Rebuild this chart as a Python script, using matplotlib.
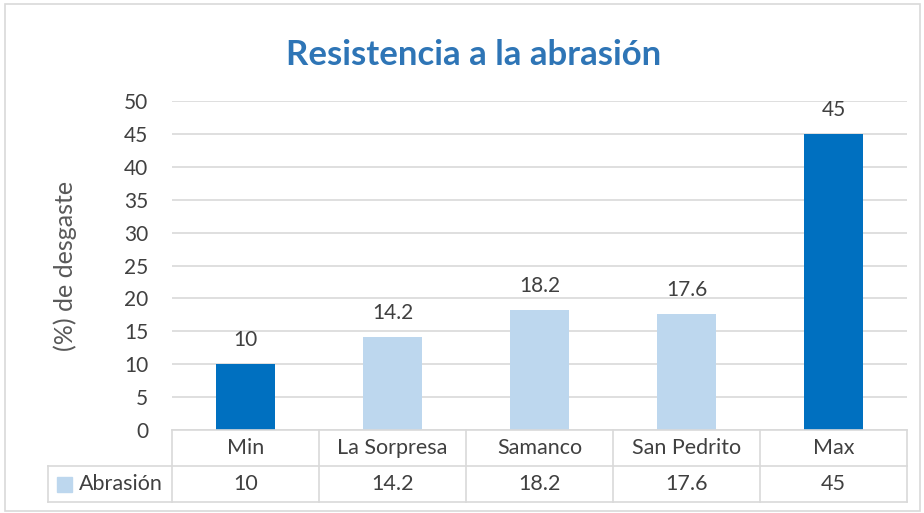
import matplotlib.pyplot as plt
from matplotlib.patches import Rectangle
from matplotlib.lines import Line2D

categories = ["Min", "La Sorpresa", "Samanco", "San Pedrito", "Max"]
values = [10, 14.2, 18.2, 17.6, 45]
value_labels = ["10", "14.2", "18.2", "17.6", "45"]
series_name = "Abrasión"
yticks = [0, 5, 10, 15, 20, 25, 30, 35, 40, 45, 50]

dark = "#0070C0"
light = "#BDD7EE"
bar_colors = [dark, light, light, light, dark]
grid_c = "#D9D9D9"
text_c = "#404040"

plt.rcParams["font.family"] = ["Lato", "DejaVu Sans"]

W, H = 924, 513
fig = plt.figure(figsize=(W / 100, H / 100), dpi=100)

# plot area in pixels
x0, x1, ytop, ybot = 172, 907, 101, 430
ax = fig.add_axes([x0 / W, 1 - ybot / H, (x1 - x0) / W, (ybot - ytop) / H])

xs = range(len(categories))
ax.bar(xs, values, width=0.4, color=bar_colors, zorder=3)
for x, v, lab in zip(xs, values, value_labels):
    ax.annotate(lab, (x, v), xytext=(0, 10), textcoords="offset points",
                ha="center", va="bottom", fontsize=15, color=text_c)

ax.set_xlim(-0.5, len(categories) - 0.5)
ax.set_ylim(0, 50)
ax.set_yticks(yticks)
ax.set_yticklabels([str(t) for t in yticks], fontsize=15, color=text_c)
ax.set_xticks([])
ax.tick_params(axis="y", length=0, pad=17)
ax.grid(axis="y", color=grid_c, linewidth=1.2, zorder=0)
for s in ax.spines.values():
    s.set_visible(False)
ax.set_ylabel("(%) de desgaste", fontsize=18, color="#595959", labelpad=34)

ax.set_title("Resistencia a la abrasión", fontsize=25, fontweight="bold",
             color="#2E75B6", pad=26, x=0.41)

# data table below the axis
def fx(px):
    return px / W

def fy(py):
    return 1 - py / H

tl = 48
row1, row2, row3 = 430, 466, 502
col_w = (x1 - x0) / len(categories)
lines = [
    ((x0, x1), (row1, row1)),
    ((tl, x1), (row2, row2)),
    ((tl, x1), (row3, row3)),
    ((tl, tl), (row2, row3)),
]
for i in range(len(categories) + 1):
    xp = x0 + i * col_w
    lines.append(((xp, xp), (row1, row3)))
for (xa, xb), (ya, yb) in lines:
    fig.add_artist(Line2D([fx(xa), fx(xb)], [fy(ya), fy(yb)], color=grid_c, linewidth=1.2))

for i, (cat, lab) in enumerate(zip(categories, value_labels)):
    cx = x0 + (i + 0.5) * col_w
    fig.text(fx(cx), fy((row1 + row2) / 2), cat, ha="center", va="center",
             fontsize=15.5, color=text_c)
    fig.text(fx(cx), fy((row2 + row3) / 2), lab, ha="center", va="center",
             fontsize=15.5, color=text_c)

fig.add_artist(Rectangle((fx(57), fy(492)), 15 / W, 15 / H, color=light))
fig.text(fx(79), fy((row2 + row3) / 2), series_name, ha="left", va="center",
         fontsize=15.5, color=text_c)

# chart frame
fig.add_artist(Rectangle((fx(5), fy(511)), (W - 9) / W, (509 - 2) / H,
                         fill=False, edgecolor=grid_c, linewidth=1.2))

fig.savefig("out.png", dpi=100)
